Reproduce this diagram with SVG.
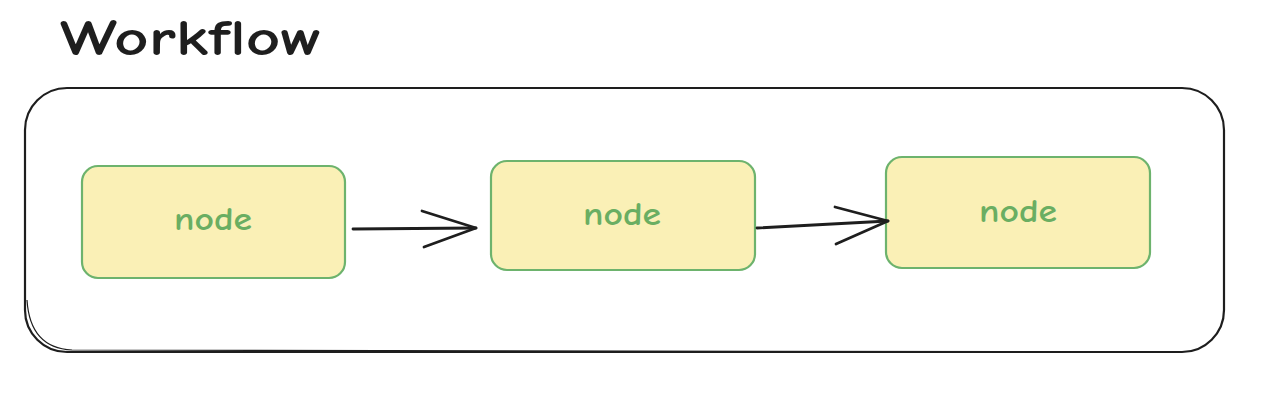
<svg xmlns="http://www.w3.org/2000/svg" width="1276" height="400" viewBox="0 0 1276 400">
<style>
.node rect{fill:#faf0b6;stroke:#6db36d;stroke-width:2.2}
.lbl{font-family:"Comic Neue","Lato","Liberation Sans",sans-serif;font-size:32px;fill:#6aae62;text-anchor:middle;font-weight:bold}
.conn path{fill:none;stroke:#1e1e1e;stroke-width:2.8;stroke-linecap:round;stroke-linejoin:round}
</style>
<rect width="1276" height="400" fill="#ffffff"/>
<text x="60" y="55" font-family="'Comic Neue',Lato,'Liberation Sans',sans-serif" font-size="50" font-weight="bold" fill="#1e1e1e" textLength="262" lengthAdjust="spacingAndGlyphs">Workflow</text>
<g id="container">
<rect x="25" y="88" width="1199" height="264" rx="42" fill="none" stroke="#1e1e1e" stroke-width="2.2"/>
<path d="M27 300 Q30 348 72 350 L1180 352" fill="none" stroke="#1e1e1e" stroke-width="1.2"/>
</g>
<g id="node1" class="node">
<rect x="82" y="166" width="263" height="112" rx="16"/>
<text class="lbl" x="213" y="230" textLength="78" lengthAdjust="spacingAndGlyphs">node</text>
</g>
<g id="node2" class="node">
<rect x="491" y="161" width="264" height="109" rx="16"/>
<text class="lbl" x="622" y="225" textLength="78" lengthAdjust="spacingAndGlyphs">node</text>
</g>
<g id="node3" class="node">
<rect x="886" y="157" width="264" height="111" rx="16"/>
<text class="lbl" x="1018" y="222" textLength="78" lengthAdjust="spacingAndGlyphs">node</text>
</g>
<g id="connectors" class="conn">
<path d="M353 229 L476 228"/>
<path d="M422 211 L476 228 L424 247"/>
<path d="M757 228 L888 221"/>
<path d="M835 207 L888 221 L836 244"/>
</g>
</svg>
